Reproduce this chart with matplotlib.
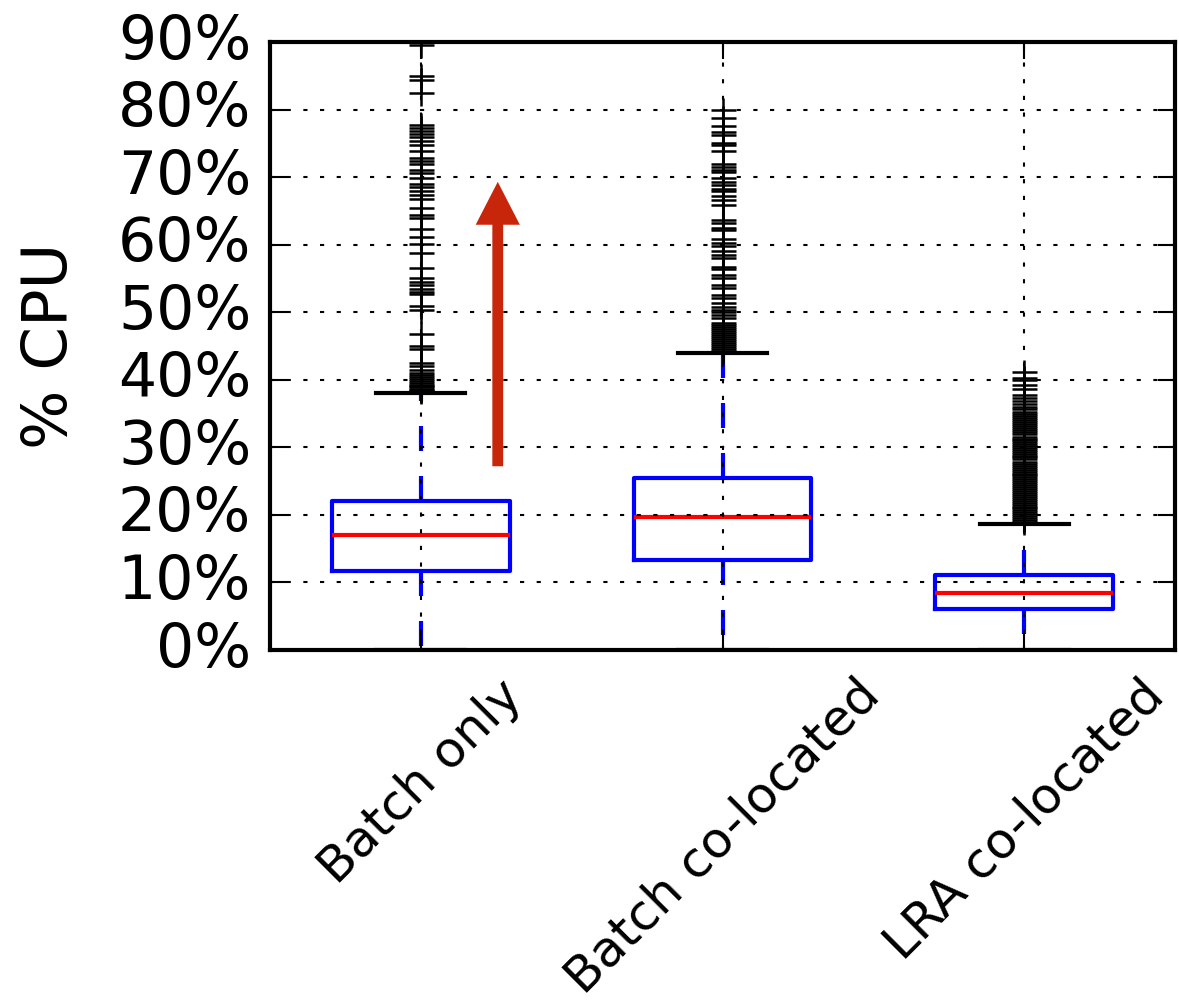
import matplotlib
matplotlib.use("Agg")
import matplotlib.pyplot as plt
from matplotlib.ticker import FuncFormatter

plt.style.use("classic")
plt.rcParams.update({
    "font.family": ["DejaVu Sans"],
    "font.size": 14,
    "figure.facecolor": "white",
    "savefig.facecolor": "white",
})

# ---- data (% CPU) ----
categories = ["Batch only", "Batch co-located", "LRA co-located"]
q1 = [11.7, 13.3, 6.1]
median = [17.0, 19.7, 8.4]
q3 = [22.1, 25.5, 11.1]
whisker_low = [0.0, 0.0, 0.0]
whisker_high = [38.1, 44.0, 18.7]

fliers_batch_only = [
    38.3, 38.5, 38.7, 38.9, 39.1, 39.3, 39.5, 39.8, 40.1, 40.4, 40.7, 41.0,
    41.5, 42.0, 42.5, 44.5, 45.0, 46.8, 50.3, 50.9, 52.7, 53.0, 53.5, 54.0,
    54.5, 55.0, 56.5, 58.7, 60.1, 61.1, 62.3, 64.0, 64.4, 65.4, 66.7, 67.3,
    67.9, 68.5, 69.0, 69.9, 70.6, 71.1, 71.9, 72.4, 72.9, 73.9, 74.7, 75.3,
    75.9, 76.4, 76.8, 77.2, 77.7, 82.4, 84.4, 85.0, 89.5,
]
fliers_batch_coloc = [
    44.2, 44.5, 44.8, 45.1, 45.4, 45.7, 46.0, 46.3, 46.6, 46.9, 47.2, 47.5,
    47.8, 48.1, 48.4, 49.1, 49.6, 50.0, 50.3, 50.8, 51.3, 52.1, 52.5, 53.6,
    54.0, 55.1, 55.5, 56.4, 56.7, 58.1, 58.5, 59.0, 59.8, 60.2, 60.9, 62.2,
    62.4, 63.2, 63.6, 65.9, 66.6, 67.2, 67.9, 68.3, 68.8, 69.3, 69.8, 70.7,
    71.0, 71.5, 72.0, 73.8, 74.7, 75.1, 76.2, 76.7, 77.5, 78.7, 79.9,
]
fliers_lra_coloc = [
    19.0, 19.3, 19.5, 19.8, 20.1, 20.4, 20.7, 21.0, 21.2, 21.5, 21.8, 22.1,
    22.4, 22.7, 23.0, 23.3, 23.5, 23.8, 24.1, 24.4, 24.7, 25.0, 25.3, 25.6,
    25.9, 26.1, 26.4, 26.7, 27.0, 27.3, 27.6, 27.9, 28.2, 28.5, 28.7, 29.0,
    29.3, 29.6, 29.9, 30.2, 30.5, 30.8, 31.1, 31.3, 31.6, 31.9, 32.2, 32.5,
    32.8, 33.1, 33.4, 33.7, 34.0, 34.3, 34.6, 34.9, 35.3, 35.7, 36.0, 36.4,
    36.9, 37.3, 37.8, 38.7, 39.2, 39.9, 40.2, 41.1,
]
fliers = [fliers_batch_only, fliers_batch_coloc, fliers_lra_coloc]

# arrow highlighting the rise in CPU usage
arrow_x = 1.255
arrow_from = 27.2
arrow_to = 69.3

y_ticks = [0, 10, 20, 30, 40, 50, 60, 70, 80, 90]

# ---- figure ----
fig = plt.figure(figsize=(1179 / 300, 1005 / 300), dpi=300)
ax = fig.add_axes([270 / 1179, 1 - 650 / 1005, 905 / 1179, 608 / 1005])

stats = []
for i, name in enumerate(categories):
    stats.append(dict(label=name, med=median[i], q1=q1[i], q3=q3[i],
                      whislo=whisker_low[i], whishi=whisker_high[i],
                      fliers=fliers[i]))

ax.bxp(stats, positions=[1, 2, 3], widths=0.59, showfliers=True,
       boxprops=dict(color="b", linewidth=1.0),
       medianprops=dict(color="r", linewidth=1.0),
       whiskerprops=dict(color="b", linestyle="--", linewidth=1.0),
       capprops=dict(color="k", linewidth=1.0),
       flierprops=dict(marker="+", markeredgecolor="k", markersize=6,
                       markeredgewidth=0.6, linestyle="none"))

ax.annotate("", xy=(arrow_x, arrow_to), xytext=(arrow_x, arrow_from),
            arrowprops=dict(width=2.6, headwidth=10.6, headlength=10.3,
                            shrink=0.0, facecolor="#c8260a",
                            edgecolor="none"),
            zorder=10)

ax.set_xlim(0.5, 3.5)
ax.set_ylim(0, 90)
ax.set_yticks(y_ticks)
ax.yaxis.set_major_formatter(FuncFormatter(lambda v, p: "%d%%" % v))
ax.tick_params(axis="y", labelsize=14.4, pad=4.5)
ax.tick_params(axis="x", pad=5.0)
ax.set_xticks([1, 2, 3])
ax.set_xticklabels(categories, rotation=45, ha="center", fontsize=12.0)
ax.set_ylabel("% CPU", fontsize=15, labelpad=9)
ax.grid(True, color="k", linestyle=":", linewidth=0.5)

fig.savefig("out.png", dpi=300)
